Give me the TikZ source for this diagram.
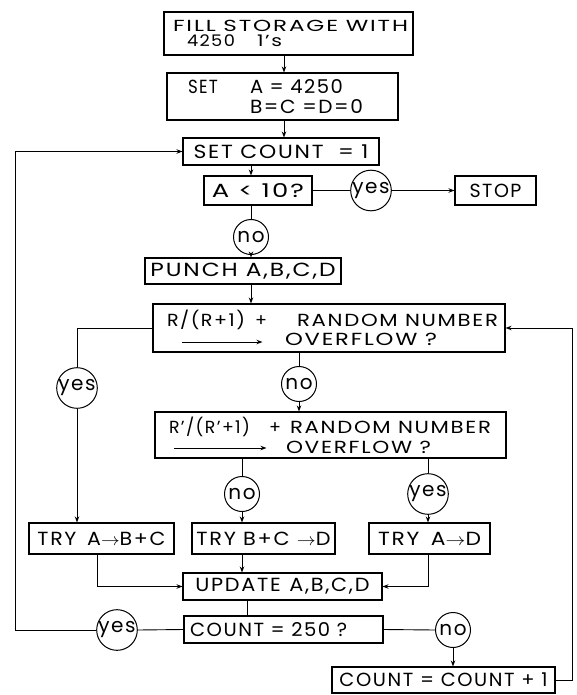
\documentclass[tikz,border=0pt]{standalone}
\usepackage{fontspec}
\usepackage{graphicx}
\setmainfont{Poppins}[LetterSpace=8]
\usetikzlibrary{arrows.meta}
\newcommand\fw[2]{\resizebox{#1}{\height}{#2}}
\begin{document}
\begin{tikzpicture}[x=1pt,y=-1pt,
  box/.style={draw, line width=1.1pt, inner sep=0pt, font=\fontsize{19}{20}\selectfont},
  circ/.style={draw, circle, line width=1pt, minimum size=35pt, inner sep=0pt, font=\fontsize{20}{20}\selectfont},
  conn/.style={line width=0.9pt},
  arr/.style={conn, -{Stealth[length=6pt,width=4.5pt]}}]
\useasboundingbox (0,0) rectangle (576,695);
\coordinate (c1) at (284,0);
\coordinate (ca) at (97,0);
\coordinate (c3) at (247,0);
\coordinate (cl) at (15,0);
\coordinate (cr) at (572,0);
% nodes
\node[box, text width=231pt, inner xsep=9pt, minimum height=43pt, align=left, font=\fontsize{16}{15.5}\selectfont] (fill) at (288.5,33.5) {\fw{235pt}{FILL STORAGE WITH}\\\hspace*{14pt}\makebox[70pt][l]{\fw{48pt}{4250}}\fw{25pt}{1's}};
\node[box, text width=189pt, inner xsep=21pt, minimum height=47pt, align=left] (set) at (282.5,96.5) {\makebox[62pt][l]{\fw{30pt}{SET}}\fw{93pt}{A = 4250}\\\hspace*{62pt}\fw{113pt}{B=C =D=0}};
\node[box, minimum width=196pt, minimum height=27pt] (setcount) at (281,151.5) {\fw{175pt}{SET COUNT\hspace{6pt} = 1}};
\node[box, minimum width=108pt, minimum height=29pt] (a10) at (258,190.5) {\fw{92pt}{A < 10?}};
\node[circ] (yes1) at (371,190.5) {yes};
\node[box, minimum width=81pt, minimum height=29pt] (stop) at (495.5,190.5) {\fw{52pt}{STOP}};
\node[circ] (no1) at (251,237) {no};
\node[box, minimum width=196pt, minimum height=26pt] (punch) at (243,271) {\fw{185pt}{PUNCH A,B,C,D}};
\node[box, text width=324pt, inner xsep=14pt, minimum height=48pt, align=left, font=\fontsize{17.5}{19}\selectfont] (R) at (329,328) {\makebox[88pt][l]{\fw{78pt}{R/(R+1)}}\makebox[42pt][l]{+}\fw{201pt}{RANDOM\hspace{6pt}NUMBER}\\\hspace*{118pt}\fw{152pt}{OVERFLOW\hspace{6pt}?}};
\node[circ] (yes2) at (77,388) {yes};
\node[circ] (no2) at (299,384) {no};
\node[box, text width=323pt, inner xsep=14pt, minimum height=46pt, align=left, font=\fontsize{17.5}{20}\selectfont] (Rp) at (330.5,435) {\makebox[100pt][l]{\fw{81pt}{R'/(R'+1)}}\makebox[21pt][l]{+}\fw{201pt}{RANDOM\hspace{6pt}NUMBER}\\\hspace*{117pt}\fw{145pt}{OVERFLOW\hspace{6pt}?}};
\node[circ] (no3) at (242,494) {no};
\node[circ] (yes3) at (428,494) {yes};
\node[box, minimum width=145pt, minimum height=31pt] (trya) at (101.5,538.5) {\fw{128pt}{TRY\hspace{10pt}A$\rightarrow$B+C}};
\node[box, minimum width=143pt, minimum height=31pt] (trybc) at (263.5,538.5) {\fw{134pt}{TRY B+C $\rightarrow$D}};
\node[box, minimum width=121pt, minimum height=31pt] (tryad) at (429.5,538.5) {\fw{103pt}{TRY\hspace{10pt}A$\rightarrow$D}};
\node[box, minimum width=199pt, minimum height=27pt] (update) at (282.5,586.5) {\fw{174pt}{UPDATE\hspace{8pt}A,B,C,D}};
\node[box, text width=187pt, inner xsep=6pt, minimum height=27pt, align=left] (count) at (283.5,629.5) {\fw{157pt}{COUNT = 250 ?}};
\node[circ] (yes4) at (117,630) {yes};
\node[circ] (no4) at (453,630) {no};
\node[box, minimum width=223pt, minimum height=26pt] (countp) at (443.5,680) {\fw{208pt}{COUNT = COUNT + 1}};
% arrows printed inside the two test boxes
\draw[arr] ([shift={(30,14)}]R.west) -- ++(80,0);
\draw[arr] ([shift={(20,13)}]Rp.west) -- ++(92,0);
% connectors
\draw[arr] (fill.south -| c1) -- (set.north -| c1);
\draw[arr] (set.south -| c1) -- (setcount.north -| c1);
\draw[arr] (setcount.south -| no1) -- (a10.north -| no1);
\draw[conn] (a10.south -| no1) -- (no1.north);
\draw[conn] (a10.east) -- (yes1.west);
\draw[arr] (yes1.east) -- (stop.west);
\draw[arr] (no1.south) -- (punch.north -| no1);
\draw[arr] (punch.south -| no1) -- (R.north -| no1);
\draw[conn] (R.west) -| (yes2.north);
\draw[arr] (yes2.south) -- (trya.north -| yes2);
\draw[conn] (R.south -| no2) -- (no2.north);
\draw[arr] (no2.south) -- (Rp.north -| no2);
\draw[conn] (Rp.south -| no3) -- (no3.north);
\draw[arr] (no3.south) -- (trybc.north -| no3);
\draw[conn] (Rp.south -| yes3) -- (yes3.north);
\draw[arr] (yes3.south) -- (tryad.north -| yes3);
\draw[arr] (trya.south -| ca) |- (update.west);
\draw[arr] (trybc.south -| no3) -- (update.north -| no3);
\draw[arr] (tryad.south -| yes3) |- (update.east);
\draw[conn] (update.south -| c3) -- (count.north -| c3);
\draw[conn] (count.west) -- (yes4.east);
\draw[conn] (count.east) -- (no4.west);
\draw[arr] (yes4.west) -- (yes4.west -| cl) |- (setcount.west);
\draw[arr] (no4.south) -- (countp.north -| no4);
\draw[arr] (countp.east) -- (countp.east -| cr) |- (R.east);
\end{tikzpicture}
\end{document}
